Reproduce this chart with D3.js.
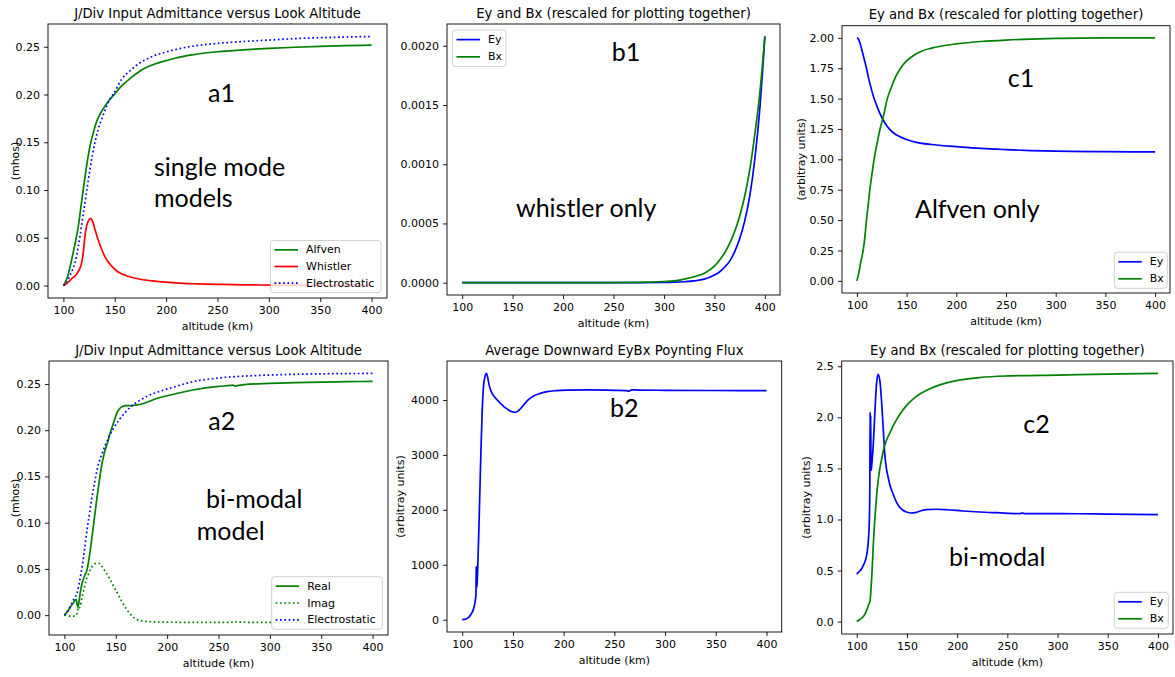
<!DOCTYPE html>
<html><head><meta charset="utf-8">
<script src="https://cdn.jsdelivr.net/npm/d3@7"></script>
<style>
html,body{margin:0;padding:0;background:#fff;}
svg{display:block;}
.mpl{font-family:"DejaVu Sans",sans-serif;}
.note{font-family:Lato,"Open Sans",sans-serif;}
</style></head>
<body>
<svg id="chart" width="1175" height="677"></svg>
<script>
// ---------- tick labels ----------
const altTicks = [100, 150, 200, 250, 300, 350, 400];
const mhosTicks = [0, 0.05, 0.10, 0.15, 0.20, 0.25];
const b1Ticks = [0, 0.0005, 0.0010, 0.0015, 0.0020];
const c1Ticks = [0, 0.25, 0.5, 0.75, 1.0, 1.25, 1.5, 1.75, 2.0];
const b2Ticks = [0, 1000, 2000, 3000, 4000];
const c2Ticks = [0, 0.5, 1.0, 1.5, 2.0, 2.5];

// ---------- a1: single mode admittance [altitude km, mhos] ----------
const alfvenA1 = [[100,0],[104,0.009],[108,0.027],[111,0.042],[114.5,0.062],[117,0.082],[119.4,0.101],[122,0.121],[124.2,0.136],[126.5,0.149],[129.1,0.160],[131.5,0.169],[134,0.176],[137,0.182],[140.5,0.188],[144.5,0.194],[148.6,0.199],[156.7,0.209],[165,0.217],[172.9,0.2234],[180,0.228],[189,0.232],[200,0.2355],[208.6,0.238],[225,0.2415],[250,0.2448],[275,0.2468],[300,0.2483],[325,0.2495],[350,0.2504],[375,0.2511],[400,0.2517]];
const whistlerA1 = [[100,0],[103,0.002],[106,0.005],[109,0.008],[111.3,0.0098],[114,0.014],[116,0.018],[117.8,0.024],[119.5,0.036],[121,0.052],[122.5,0.062],[124.2,0.0675],[126.5,0.0704],[128.5,0.067],[130.7,0.059],[133.5,0.049],[137.2,0.038],[141,0.029],[147,0.0203],[153,0.0145],[163,0.0098],[175,0.0066],[189,0.0046],[209,0.0028],[230,0.0018],[250,0.0012],[275,0.0008],[300,0.0005],[350,0.0003],[400,0.0002]];
const electroA1 = [[100,0],[103,0.003],[107,0.012],[111.3,0.024],[114,0.038],[116.2,0.052],[118.5,0.069],[121,0.087],[123.5,0.105],[125.9,0.122],[128.3,0.137],[130.7,0.150],[134,0.164],[137.2,0.174],[141,0.185],[145.3,0.195],[150,0.203],[156.7,0.216],[165,0.225],[172.9,0.232],[180,0.2365],[189,0.241],[200,0.2445],[207,0.2465],[225,0.2505],[250,0.2535],[275,0.2555],[300,0.257],[325,0.2585],[350,0.2595],[375,0.2602],[400,0.2608]];

// ---------- b1: whistler only ----------
const altB1 = [100,150,200,250,275,300,310,320,330,340,350,355,360,365,370,375,380,385,390,395,400];
const eyB1 = [0,0,0,0.0000005,0.000001,0.000002,0.000004,0.000008,0.000015,0.00003,0.000065,0.00009,0.00013,0.00018,0.00026,0.00037,0.00052,0.00073,0.00104,0.00147,0.00208];
const bxB1 = [0,0,0,0.000001,0.000003,0.00001,0.000015,0.00003,0.00005,0.00008,0.00014,0.00019,0.00025,0.00033,0.00043,0.00056,0.00073,0.00095,0.00125,0.0016,0.00208];

// ---------- c1: Alfven only ----------
const eyC1 = [[100,2.0],[101.5,1.99],[103,1.96],[105,1.9],[107.5,1.82],[109.6,1.75],[112,1.66],[114.5,1.58],[117.3,1.5],[120,1.44],[123,1.38],[126,1.33],[130.6,1.27],[135,1.23],[140,1.2],[150,1.163],[160,1.14],[175,1.122],[200,1.105],[225,1.09],[250,1.08],[275,1.072],[300,1.067],[350,1.063],[400,1.061]];
const bxC1 = [[100,0],[102,0.07],[104,0.16],[106.3,0.25],[108,0.36],[109.6,0.5],[111.3,0.62],[113,0.75],[115,0.87],[117.3,1.0],[120,1.12],[123.3,1.25],[126.5,1.35],[130.6,1.5],[135,1.6],[139,1.68],[143.9,1.75],[150,1.81],[157,1.855],[165,1.89],[175,1.915],[187,1.935],[200,1.95],[225,1.97],[250,1.982],[275,1.99],[300,1.995],[350,1.999],[400,2.0]];

// ---------- a2: bi-modal admittance ----------
const realA2 = [[100,0],[103,0.004],[106,0.009],[108.5,0.013],[110.7,0.0165],[111.5,0.017],[112.3,0.012],[113,0.0085],[114,0.013],[115.5,0.025],[117.2,0.0345],[119.5,0.042],[122,0.049],[124.5,0.065],[126.9,0.085],[129.3,0.106],[131.8,0.128],[134.2,0.147],[136.6,0.164],[139,0.176],[141.5,0.185],[144,0.195],[146.3,0.203],[149,0.212],[151.2,0.219],[153.5,0.223],[156.1,0.2255],[160,0.2265],[165.8,0.2266],[170,0.2272],[175.5,0.2284],[182,0.231],[188.4,0.2338],[200,0.2373],[208,0.2395],[225,0.2435],[250,0.2474],[262,0.2485],[264,0.2488],[266,0.2478],[268,0.2482],[275,0.2493],[300,0.2506],[325,0.2515],[350,0.2521],[375,0.2525],[400,0.2528]];
const imagA2 = [[100,0],[103,-0.0005],[106,-0.001],[109,-0.001],[111,-0.0005],[112.5,0.003],[113.5,0.009],[114.5,0.008],[115.5,0.01],[117,0.018],[118.8,0.027],[121,0.037],[123.6,0.045],[126,0.051],[128.5,0.0545],[131,0.056],[133.3,0.0562],[136.6,0.0525],[140,0.047],[144.7,0.038],[148,0.031],[152,0.023],[156,0.0145],[161,0.0057],[166,-0.001],[171,-0.005],[180,-0.0068],[200,-0.0076],[225,-0.0078],[250,-0.0078],[263,-0.0077],[265,-0.0066],[268,-0.0075],[300,-0.0079],[350,-0.008],[400,-0.008]];
const electroA2 = [[100,0],[103,0.004],[106,0.01],[109,0.017],[112.3,0.0237],[114.8,0.037],[117.2,0.052],[119.6,0.071],[122,0.092],[124.5,0.11],[126.9,0.128],[129.3,0.143],[131.8,0.157],[134.2,0.167],[136.6,0.1745],[139.8,0.184],[143,0.192],[147.5,0.2015],[152.8,0.2105],[159,0.219],[165.8,0.2266],[173,0.232],[182,0.2374],[194,0.2425],[206,0.2465],[225,0.2525],[250,0.2565],[275,0.2585],[300,0.2597],[325,0.2605],[350,0.261],[375,0.2613],[400,0.2614]];

// ---------- b2: Poynting flux ----------
const fluxB2 = [[100,0],[104,12],[108,80],[111.4,212],[113,364],[113.6,470],[113.8,969],[114.0,576],[114.2,960],[114.4,590],[114.8,700],[115.4,1000],[116.5,1700],[117.5,2400],[118.5,3100],[119.7,3800],[121,4250],[122.5,4430],[123.9,4485],[125,4420],[126.2,4303],[128,4180],[129.5,4121],[133,4030],[137.7,3939],[141,3880],[145.8,3818],[149,3785],[152.4,3776],[155,3800],[157.4,3840],[160.6,3909],[165,4000],[170.4,4073],[177,4120],[183.6,4152],[193,4170],[203.3,4178],[225,4182],[250,4176],[262,4170],[264,4160],[265,4165],[267,4185],[275,4180],[300,4176],[350,4172],[400,4170]];

// ---------- c2: bi-modal Ey / Bx ----------
const eyC2 = [[100,0.465],[102.5,0.49],[105,0.52],[107,0.56],[109.2,0.62],[110.5,0.69],[111.6,0.8],[112.6,1.02],[113.0,1.3],[113.3,2.05],[113.6,1.5],[113.9,2.02],[114.2,1.48],[114.6,1.5],[115.5,1.6],[116.5,1.74],[118.1,2.06],[119.7,2.33],[121.2,2.42],[123,2.36],[124.7,2.16],[126.3,1.9],[127.9,1.64],[129.5,1.5],[131.2,1.415],[133.5,1.32],[136.2,1.25],[139.5,1.17],[142.8,1.12],[146,1.09],[149.5,1.073],[154.4,1.063],[159.4,1.07],[164,1.085],[169.3,1.097],[179.3,1.10],[190,1.095],[205.7,1.083],[222.5,1.073],[240,1.066],[262,1.058],[265,1.062],[268,1.058],[300,1.057],[322,1.056],[350,1.052],[400,1.048]];
const bxC2 = [[100,0],[103,0.02],[106.6,0.05],[109,0.09],[110.6,0.13],[112,0.17],[113.2,0.2],[114.2,0.32],[115,0.45],[116,0.65],[117,0.85],[118,1.0],[119.5,1.2],[121,1.35],[123,1.5],[125,1.6],[126.5,1.675],[129,1.76],[133.1,1.85],[137,1.93],[143,2.03],[149,2.11],[156.3,2.18],[164,2.235],[172.8,2.28],[185,2.325],[199.3,2.36],[222.5,2.39],[250,2.405],[300,2.414],[350,2.423],[400,2.43]];

// ---------- drawing ----------
const GREEN = "#008000", BLUE = "#0000ff", RED = "#ff0000";
const zip = (xs, ys) => xs.map((x, i) => [x, ys[i]]);

const panels = [
  {box:[48,24,387,298], title:"J/Div Input Admittance versus Look Altitude", ylabel:"(mhos)", ylabelX:15,
   yticks:mhosTicks, yfmt:".2f",
   series:[{d:alfvenA1,c:GREEN,n:"Alfven"},{d:whistlerA1,c:RED,n:"Whistler"},{d:electroA1,c:BLUE,n:"Electrostatic",dot:true}],
   legend:{x:270.5,y:240.5,w:110.5,h:52},
   notes:[["a1",208,101.7],["single mode",154,176],["models",154,206.7]]},
  {box:[447,24,780,295], title:"Ey and Bx (rescaled for plotting together)", ylabel:null,
   yticks:b1Ticks, yfmt:".4f",
   series:[{d:zip(altB1,eyB1),c:BLUE,n:"Ey"},{d:zip(altB1,bxB1),c:GREEN,n:"Bx"}],
   legend:{x:452.5,y:30,w:53.5,h:36.5},
   notes:[["b1",611.7,61],["whistler only",516,217]]},
  {box:[842,25.7,1170,293], title:"Ey and Bx (rescaled for plotting together)", ylabel:"(arbitray units)", ylabelX:801,
   yticks:c1Ticks, yfmt:".2f",
   series:[{d:eyC1,c:BLUE,n:"Ey"},{d:bxC1,c:GREEN,n:"Bx"}],
   legend:{x:1114.3,y:252.3,w:53,h:36},
   notes:[["c1",1007.7,87.3],["Alfven only",915,218.3]]},
  {box:[49,361,388,635], title:"J/Div Input Admittance versus Look Altitude", ylabel:"(mhos)", ylabelX:15,
   yticks:mhosTicks, yfmt:".2f",
   series:[{d:realA2,c:GREEN,n:"Real"},{d:imagA2,c:GREEN,n:"Imag",dot:true},{d:electroA2,c:BLUE,n:"Electrostatic",dot:true}],
   legend:{x:271.7,y:576.7,w:110.6,h:52.6},
   notes:[["a2",208.3,430],["bi-modal",206,507.7],["model",196.7,540]]},
  {box:[447,361,781.7,632], title:"Average Downward EyBx Poynting Flux", ylabel:"(arbitray units)", ylabelX:400,
   yticks:b2Ticks, yfmt:"d",
   series:[{d:fluxB2,c:BLUE,n:"flux"}],
   legend:null,
   notes:[["b2",610,416.7]]},
  {box:[841.7,361,1173,634], title:"Ey and Bx (rescaled for plotting together)", ylabel:"(arbitray units)", ylabelX:806,
   yticks:c2Ticks, yfmt:".1f",
   series:[{d:eyC2,c:BLUE,n:"Ey"},{d:bxC2,c:GREEN,n:"Bx"}],
   legend:{x:1114.3,y:592.3,w:54,h:36},
   notes:[["c2",1023.3,432.7],["bi-modal",949,565.7]]}
];

const svg = d3.select("#chart");

panels.forEach(p => {
  const [L, T, R, B] = p.box;
  const allY = p.series.flatMap(s => s.d.map(v => v[1]));
  const ymin = d3.min(allY), ymax = d3.max(allY), ym = (ymax - ymin) * 0.05;
  const x = d3.scaleLinear().domain([85, 415]).range([L, R]);
  const y = d3.scaleLinear().domain([ymin - ym, ymax + ym]).range([B, T]);
  const g = svg.append("g").attr("class", "mpl");

  const clipId = "clip" + Math.round(L) + "_" + Math.round(T);
  g.append("clipPath").attr("id", clipId).append("rect")
    .attr("x", L).attr("y", T).attr("width", R - L).attr("height", B - T);

  const line = d3.line().x(d => x(d[0])).y(d => y(d[1])).curve(d3.curveMonotoneX);
  const plot = g.append("g").attr("clip-path", `url(#${clipId})`);
  p.series.forEach(s => {
    plot.append("path").attr("d", line(s.d)).attr("fill", "none")
      .attr("stroke", s.c).attr("stroke-width", 1.7)
      .attr("stroke-dasharray", s.dot ? "1.7,2.6" : null)
      .attr("stroke-linejoin", "round");
  });

  // axes
  const xa = g.append("g").attr("transform", `translate(0,${B})`)
    .call(d3.axisBottom(x).tickValues(altTicks).tickSize(4).tickPadding(4).tickFormat(d3.format("d")));
  const ya = g.append("g").attr("transform", `translate(${L},0)`)
    .call(d3.axisLeft(y).tickValues(p.yticks).tickSize(4).tickPadding(4).tickFormat(d3.format(p.yfmt)));
  [xa, ya].forEach(a => {
    a.select(".domain").remove();
    a.selectAll("line").attr("stroke", "#000").attr("stroke-width", 0.9);
    a.selectAll("text").attr("font-size", 11).attr("fill", "#000").attr("font-family", "DejaVu Sans");
  });

  g.append("rect").attr("x", L).attr("y", T).attr("width", R - L).attr("height", B - T)
    .attr("fill", "none").attr("stroke", "#000").attr("stroke-width", 0.9);

  g.append("text").attr("x", (L + R) / 2).attr("y", T - 6.5).attr("text-anchor", "middle")
    .attr("font-size", 13.2).attr("fill", "#000").text(p.title);
  g.append("text").attr("x", (L + R) / 2).attr("y", B + 32).attr("text-anchor", "middle")
    .attr("font-size", 11).attr("fill", "#000").text("altitude (km)");
  if (p.ylabel) {
    g.append("text").attr("transform", `translate(${p.ylabelX},${(T + B) / 2}) rotate(-90)`)
      .attr("text-anchor", "middle").attr("dominant-baseline", "central")
      .attr("font-size", 11).attr("fill", "#000").text(p.ylabel);
  }

  if (p.legend) {
    const lg = p.legend;
    g.append("rect").attr("x", lg.x).attr("y", lg.y).attr("width", lg.w).attr("height", lg.h)
      .attr("rx", 3).attr("fill", "#fff").attr("fill-opacity", 0.8)
      .attr("stroke", "#cccccc").attr("stroke-width", 0.9);
    const n = p.series.length;
    const step = (lg.h - 2) / n;
    p.series.forEach((s, i) => {
      const cy = lg.y + 1 + step * (i + 0.5);
      g.append("line").attr("x1", lg.x + 4).attr("x2", lg.x + 27.5).attr("y1", cy).attr("y2", cy)
        .attr("stroke", s.c).attr("stroke-width", 1.7)
        .attr("stroke-dasharray", s.dot ? "1.7,2.6" : null);
      g.append("text").attr("x", lg.x + 35.5).attr("y", cy).attr("dominant-baseline", "central")
        .attr("font-size", 11).attr("fill", "#000").text(s.n);
    });
  }

  p.notes.forEach(([t, nx, ny]) => {
    svg.append("text").attr("class", "note").attr("x", nx).attr("y", ny)
      .attr("font-size", 25).attr("fill", "#000").text(t);
  });
});
</script>
</body></html>
